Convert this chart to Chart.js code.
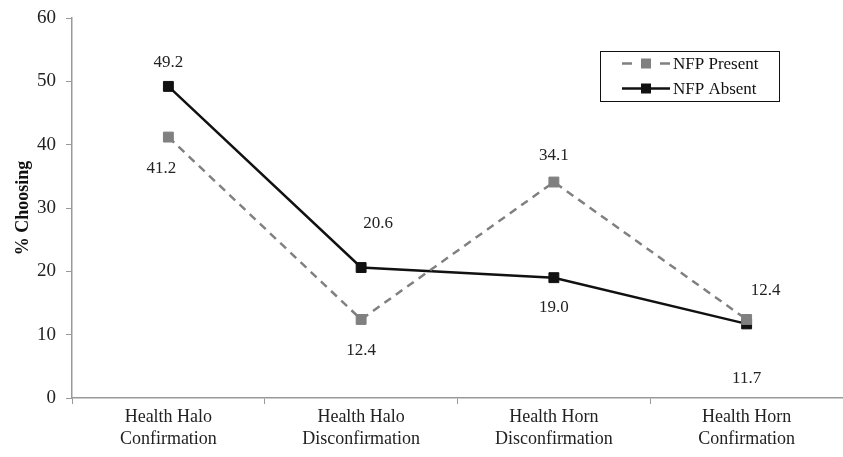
<!DOCTYPE html>
<html>
<head>
<meta charset="utf-8">
<script src="https://cdn.jsdelivr.net/npm/chart.js@4"></script>
<style>
  html, body { margin: 0; padding: 0; background: #fff; }
  #wrap { width: 843px; height: 457px; }
</style>
</head>
<body>
<div id="wrap"><canvas id="c" width="843" height="457"></canvas></div>
<script>
// Categories and series
const categories = [
  ['Health Halo', 'Confirmation'],
  ['Health Halo', 'Disconfirmation'],
  ['Health Horn', 'Disconfirmation'],
  ['Health Horn', 'Confirmation']
];
const nfpPresent = [41.2, 12.4, 34.1, 12.4];
const nfpAbsent = [49.2, 20.6, 19.0, 11.7];
const yTicks = [0, 10, 20, 30, 40, 50, 60];

// Where each value label sits relative to its marker (px)
const labelOffsets = {
  0: [[-7, 31], [0, 31], [0, -27], [19, -29]],
  1: [[0, -24], [17, -44], [0, 30], [0, 55]]
};

const SERIF = '"Liberation Serif", "Times New Roman", serif';

const valueLabels = {
  id: 'valueLabels',
  afterDatasetsDraw(chart) {
    const ctx = chart.ctx;
    ctx.save();
    ctx.font = '17px ' + SERIF;
    ctx.fillStyle = '#222';
    ctx.textAlign = 'center';
    ctx.textBaseline = 'middle';
    chart.data.datasets.forEach((ds, di) => {
      chart.getDatasetMeta(di).data.forEach((pt, i) => {
        const off = labelOffsets[di][i];
        ctx.fillText(ds.data[i].toFixed(1), pt.x + off[0], pt.y + off[1]);
      });
    });
    ctx.restore();
  }
};

const boxLegend = {
  id: 'boxLegend',
  afterDraw(chart) {
    const ctx = chart.ctx;
    const x0 = 600, y0 = 51, w = 179, h = 50;
    ctx.save();
    ctx.strokeStyle = '#111';
    ctx.lineWidth = 1;
    ctx.strokeRect(x0 + 0.5, y0 + 0.5, w, h);
    ctx.font = '17px ' + SERIF;
    ctx.textBaseline = 'middle';
    ctx.textAlign = 'left';
    chart.data.datasets.forEach((ds, i) => {
      const y = y0 + 12.5 + i * 25;
      ctx.strokeStyle = ds.borderColor;
      ctx.lineWidth = 2.5;
      ctx.setLineDash(ds.borderDash ? [10, 9] : []);
      ctx.beginPath();
      ctx.moveTo(x0 + 22, y);
      ctx.lineTo(x0 + 70, y);
      ctx.stroke();
      ctx.setLineDash([]);
      ctx.fillStyle = ds.pointBackgroundColor;
      ctx.fillRect(x0 + 41, y - 5, 10, 10);
      ctx.fillStyle = '#111';
      ctx.fillText(ds.label, x0 + 73, y + 1);
    });
    ctx.restore();
  }
};

new Chart(document.getElementById('c'), {
  type: 'line',
  data: {
    labels: categories,
    datasets: [
      {
        label: 'NFP Present',
        data: nfpPresent,
        borderColor: '#808080',
        backgroundColor: '#808080',
        pointBackgroundColor: '#808080',
        pointBorderColor: '#808080',
        borderDash: [8, 6],
        borderWidth: 2.5,
        pointStyle: 'rect',
        pointRadius: 7,
        pointBorderWidth: 1,
        tension: 0
      },
      {
        label: 'NFP Absent',
        data: nfpAbsent,
        borderColor: '#111111',
        backgroundColor: '#111111',
        pointBackgroundColor: '#111111',
        pointBorderColor: '#111111',
        borderWidth: 2.5,
        pointStyle: 'rect',
        pointRadius: 7,
        pointBorderWidth: 1,
        tension: 0
      }
    ]
  },
  options: {
    responsive: false,
    animation: false,
    devicePixelRatio: 1,
    layout: { autoPadding: false, padding: { top: 18, right: 0, left: 0, bottom: 0 } },
    plugins: {
      legend: { display: false },
      tooltip: { enabled: false }
    },
    scales: {
      x: {
        type: 'category',
        offset: true,
        grid: {
          offset: true,
          drawOnChartArea: false,
          drawTicks: true,
          tickLength: 6,
          color: '#999'
        },
        border: { display: true, color: '#999', width: 1.5 },
        ticks: {
          font: { family: SERIF, size: 18, lineHeight: 1.25 },
          color: '#222',
          padding: 2,
          maxRotation: 0,
          autoSkip: false
        },
        afterFit(scale) { scale.height = 59; }
      },
      y: {
        min: 0,
        max: 60,
        afterBuildTicks(scale) { scale.ticks = yTicks.map(v => ({ value: v })); },
        grid: {
          drawOnChartArea: false,
          drawTicks: true,
          tickLength: 6,
          color: '#999'
        },
        border: { display: true, color: '#999', width: 1.5 },
        ticks: {
          font: { family: SERIF, size: 19 },
          color: '#222',
          padding: 10
        },
        title: {
          display: true,
          text: '% Choosing',
          font: { family: SERIF, size: 18, weight: 'bold' },
          color: '#111',
          padding: { top: 13, bottom: 0 }
        },
        afterFit(scale) {
          scale.width = 72;
          scale.paddingTop = 0;
          scale.paddingBottom = 0;
        }
      }
    }
  },
  plugins: [valueLabels, boxLegend]
});
</script>
</body>
</html>
